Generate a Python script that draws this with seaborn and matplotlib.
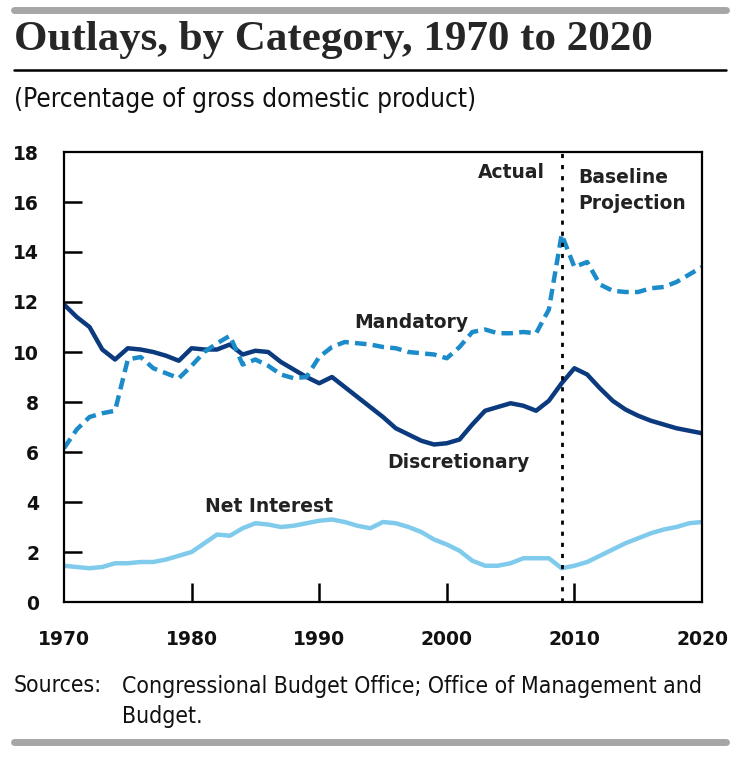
import pandas as pd
import matplotlib.pyplot as plt
import seaborn as sns

# Values (percent of GDP)
years = list(range(1970, 2021))
discretionary = [11.9, 11.4, 11.0, 10.1, 9.7, 10.15, 10.1, 10.0, 9.85, 9.65,
                 10.15, 10.1, 10.1, 10.3, 9.9, 10.05, 10.0, 9.6, 9.3, 9.0,
                 8.75, 9.0, 8.6, 8.2, 7.8, 7.4, 6.95, 6.7, 6.45, 6.3,
                 6.35, 6.5, 7.1, 7.65, 7.8, 7.95, 7.85, 7.65, 8.05, 8.75,
                 9.35, 9.1, 8.55, 8.05, 7.7, 7.45, 7.25, 7.1, 6.95, 6.85, 6.75]
mandatory = [6.15, 6.9, 7.4, 7.55, 7.65, 9.7, 9.8, 9.35, 9.15, 8.95,
             9.45, 10.0, 10.35, 10.65, 9.5, 9.7, 9.45, 9.1, 8.95, 9.0,
             9.8, 10.2, 10.4, 10.35, 10.3, 10.2, 10.15, 10.0, 9.95, 9.9,
             9.75, 10.2, 10.8, 10.9, 10.75, 10.75, 10.8, 10.75, 11.7, 14.7,
             13.4, 13.6, 12.7, 12.45, 12.4, 12.4, 12.55, 12.6, 12.8, 13.1, 13.4]
net_interest = [1.45, 1.4, 1.35, 1.4, 1.55, 1.55, 1.6, 1.6, 1.7, 1.85,
                2.0, 2.35, 2.7, 2.65, 2.95, 3.15, 3.1, 3.0, 3.05, 3.15,
                3.25, 3.3, 3.2, 3.05, 2.95, 3.2, 3.15, 3.0, 2.8, 2.5,
                2.3, 2.05, 1.65, 1.45, 1.45, 1.55, 1.75, 1.75, 1.75, 1.35,
                1.45, 1.6, 1.85, 2.1, 2.35, 2.55, 2.75, 2.9, 3.0, 3.15, 3.2]
y_ticks = list(range(0, 20, 2))
x_ticks = list(range(1970, 2030, 10))
split_year = 2009

df = pd.DataFrame({'Year': years, 'Discretionary': discretionary,
                   'Mandatory': mandatory, 'Net Interest': net_interest})

sns.set_style('white')
plt.rcParams['font.family'] = ['DejaVu Sans']

fig = plt.figure(figsize=(7.31, 7.57), dpi=100)
ax = fig.add_axes([64 / 731, 155 / 757, 638 / 731, 450 / 757])

sns.lineplot(data=df, x='Year', y='Net Interest', ax=ax, color='#80cbec', linewidth=3.2)
sns.lineplot(data=df, x='Year', y='Discretionary', ax=ax, color='#0b3a7e', linewidth=3.2)
sns.lineplot(data=df, x='Year', y='Mandatory', ax=ax, color='#1b8cc9', linewidth=3.2)
ax.lines[-1].set_dashes((2.6, 1.4))
ax.axvline(split_year, color='black', linestyle=(0, (1.5, 2.5)), linewidth=2)

ax.set_xlim(1970, 2020)
ax.set_ylim(0, 18)
ax.set_xticks(x_ticks)
ax.set_yticks(y_ticks)
ax.set_xlabel('')
ax.set_ylabel('')
ax.tick_params(axis='both', direction='in', color='black', width=1.8, labelsize=13.5,
               labelcolor='#111111', left=True, bottom=True)
ax.tick_params(axis='y', length=13, pad=18)
ax.tick_params(axis='x', length=14, pad=20)
for lab in ax.get_xticklabels() + ax.get_yticklabels():
    lab.set_fontweight('bold')
# no tick marks sitting on the frame corners
for axis in (ax.xaxis, ax.yaxis):
    ticks = axis.get_major_ticks()
    ticks[0].tick1line.set_visible(False)
    ticks[-1].tick1line.set_visible(False)
for sp in ax.spines.values():
    sp.set_visible(True)
    sp.set_color('black')
    sp.set_linewidth(1.6)

lab_kw = dict(fontsize=13.5, fontweight='bold', color='#222222')
ax.text(2007.7, 17.2, 'Actual', ha='right', va='center', **lab_kw)
ax.text(2010.3, 16.45, 'Baseline\nProjection', ha='left', va='center', linespacing=1.45, **lab_kw)
ax.text(1997.2, 11.2, 'Mandatory', ha='center', va='center', **lab_kw)
ax.text(2000.9, 5.56, 'Discretionary', ha='center', va='center', **lab_kw)
ax.text(1986.1, 3.8, 'Net Interest', ha='center', va='center', **lab_kw)

cond = dict(family='DejaVu Sans', stretch='condensed', color='#111111')
fig.add_artist(plt.Line2D([14 / 731, 726 / 731], [1 - 10 / 757] * 2, color='#a6a6a6', linewidth=5))
fig.add_artist(plt.Line2D([14 / 731, 726 / 731], [1 - 70 / 757] * 2, color='black', linewidth=1.8))
fig.add_artist(plt.Line2D([14 / 731, 726 / 731], [1 - 742 / 757] * 2, color='#a6a6a6', linewidth=5))
fig.text(14 / 731, 1 - 40 / 757, 'Outlays, by Category, 1970 to 2020', ha='left', va='center',
         fontsize=31, fontweight='bold', family='Liberation Serif')
fig.text(14 / 731, 1 - 100 / 757, '(Percentage of gross domestic product)', ha='left', va='center',
         fontsize=18.8, **cond)
fig.text(14 / 731, 1 - 686 / 757, 'Sources:', ha='left', va='center', fontsize=16.5, **cond)
fig.text(122 / 731, 1 - 686 / 757, 'Congressional Budget Office; Office of Management and',
         ha='left', va='center', fontsize=16.5, **cond)
fig.text(122 / 731, 1 - 716 / 757, 'Budget.', ha='left', va='center', fontsize=16.5, **cond)

fig.savefig('out.png', dpi=100)
plt.close(fig)
